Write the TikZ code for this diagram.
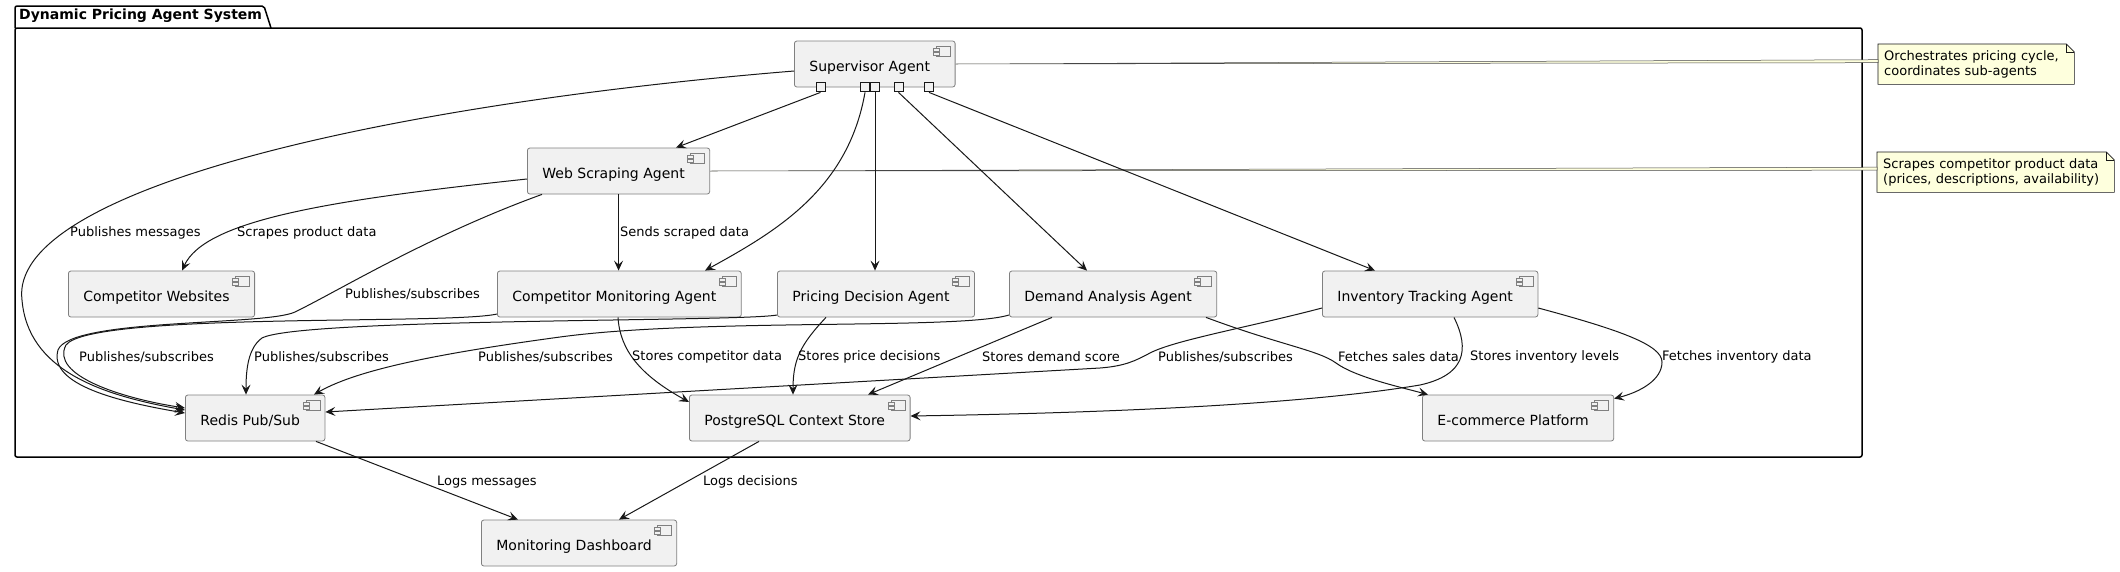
\documentclass[tikz,border=0pt]{standalone}
\usepackage{fontspec}
\setmainfont{DejaVu Sans}
\usetikzlibrary{arrows.meta}
\definecolor{boxfill}{HTML}{F1F1F1}
\definecolor{boxline}{HTML}{808080}
\definecolor{linecol}{HTML}{181818}
\definecolor{notefill}{HTML}{FEFFDD}

\begin{document}
\begin{tikzpicture}[x=1pt,y=-1pt,
  comp/.style={draw=boxline, fill=boxfill, line width=0.8pt, rounded corners=2.5pt,
    anchor=west, minimum height=46pt, inner xsep=15pt, inner ysep=0pt,
    text height=16pt, text depth=2pt, font=\fontsize{14}{16}\selectfont,
    execute at end node={\hspace{10pt}},
    path picture={
      \draw[boxline, line width=0.7pt, sharp corners]
        ([xshift=-19pt,yshift=-5pt]path picture bounding box.north east) rectangle
        ([xshift=-5pt,yshift=-15pt]path picture bounding box.north east);
      \draw[boxline, fill=boxfill, line width=0.7pt, sharp corners]
        ([xshift=-22pt,yshift=-7pt]path picture bounding box.north east) rectangle
        ([xshift=-16pt,yshift=-10pt]path picture bounding box.north east);
      \draw[boxline, fill=boxfill, line width=0.7pt, sharp corners]
        ([xshift=-22pt,yshift=-11pt]path picture bounding box.north east) rectangle
        ([xshift=-16pt,yshift=-14pt]path picture bounding box.north east);}},
  port/.style={draw=linecol, fill=boxfill, line width=1pt, minimum size=9pt, inner sep=0pt},
  lbl/.style={anchor=west, inner sep=0pt, font=\fontsize{13}{15}\selectfont},
  link/.style={draw=linecol, line width=1pt, -{Stealth[length=10pt,width=9pt,inset=4pt]}},
  notebox/.style={fill=notefill, anchor=north west, inner xsep=6pt, inner ysep=0pt,
    minimum height=40pt, align=left, font=\fontsize{13}{15.5}\selectfont},
  noteline/.style={draw=linecol, line width=0.6pt},
  notelink/.style={fill=notefill, draw=linecol!80, line width=0.5pt}]
\useasboundingbox[fill=white] (0,0) rectangle (2120,571);

% package frame
\draw[line width=1.5pt, rounded corners=2pt] (15,28) rectangle (1862,457);
\draw[line width=1.5pt, rounded corners=2pt] (15,28) -- (15,6) -- (264,6) -- (271,28);
\node[anchor=west, inner sep=0pt, font=\bfseries\fontsize{14}{16}\selectfont] (pkgtitle) at (19,16) {Dynamic Pricing Agent System};

% components
\node[comp] (sup) at (794,64) {Supervisor Agent};
\node[comp] (web) at (527,171) {Web Scraping Agent};
\node[comp] (cweb) at (68,294) {Competitor Websites};
\node[comp] (cmon) at (497,294) {Competitor Monitoring Agent};
\node[comp] (price) at (777,294) {Pricing Decision Agent};
\node[comp] (demand) at (1009,294) {Demand Analysis Agent};
\node[comp] (inv) at (1322,294) {Inventory Tracking Agent};
\node[comp] (redis) at (185,418) {Redis Pub/Sub};
\node[comp] (pg) at (689,418) {PostgreSQL Context Store};
\node[comp] (ecom) at (1422,418) {E-commerce Platform};
\node[comp] (dash) at (481,543) {Monitoring Dashboard};

% ports of the supervisor
\node[port] (p1) at ([xshift=26.5]sup.south west) {};
\node[port] (p2) at ([xshift=71]sup.south west) {};
\node[port] (p3) at ([xshift=81]sup.south west) {};
\node[port] (p4) at ([xshift=104.5]sup.south west) {};
\node[port] (p5) at ([xshift=135]sup.south west) {};

% notes
\node[notebox, text width=184pt] (n1) at (1878,44) {Orchestrates pricing cycle,\\coordinates sub-agents};
\node[notebox, text width=225pt] (n2) at (1877,152) {Scrapes competitor product data\\(prices, descriptions, availability)};
\fill[white] ([xshift=-8]n1.north east) -- (n1.north east) -- ([yshift=-8]n1.north east) -- cycle;
\draw[noteline] (n1.north west) -- ([xshift=-8]n1.north east) -- ([yshift=-8]n1.north east) -- (n1.south east) -- (n1.south west) -- cycle;
\draw[noteline] ([xshift=-8]n1.north east) |- ([yshift=-8]n1.north east);
\fill[white] ([xshift=-8]n2.north east) -- (n2.north east) -- ([yshift=-8]n2.north east) -- cycle;
\draw[noteline] (n2.north west) -- ([xshift=-8]n2.north east) -- ([yshift=-8]n2.north east) -- (n2.south east) -- (n2.south west) -- cycle;
\draw[noteline] ([xshift=-8]n2.north east) |- ([yshift=-8]n2.north east);
\filldraw[notelink] (sup.east) -- ([yshift=4.5]n1.west) -- ([yshift=1.5]n1.west) -- cycle;
\filldraw[notelink] (web.east) -- ([yshift=5]n2.west) -- ([yshift=2]n2.west) -- cycle;

% supervisor links
\draw[link] (p1.south) -- ([xshift=149]web.north west);
\draw[link] (p2.south) .. controls (848,190) and (775,232) .. ([xshift=208]cmon.north west);
\draw[link] (p3.south) -- (p3.south |- price.north);
\draw[link] (p4.south) -- ([xshift=78]demand.north west);
\draw[link] (p5.south) -- ([xshift=53]inv.north west);
\draw[link] ([yshift=-7]sup.west) .. controls (380,105) and (8,190) .. (22,300)
  .. controls (28,370) and (100,395) .. ([yshift=8]redis.west);

% web scraping links
\draw[link] ([yshift=-8]web.west) .. controls (330,200) and (205,220) .. ([xshift=114]cweb.north west);
\draw[link] (web.south) -- (web.south |- cmon.north);
\draw[link] ([xshift=15]web.south west) .. controls (430,235) and (340,290) .. (295,312)
  .. controls (265,326) and (70,318) .. (58,350) .. controls (48,385) and (120,402) .. ([yshift=5]redis.west);

% agents to redis
\draw[link] ([yshift=-20]cmon.west) .. controls (450,325) and (90,312) .. (66,345)
  .. controls (50,375) and (120,398) .. ([yshift=10]redis.west);
\draw[link] ([yshift=-21]price.west) .. controls (740,322) and (300,318) .. (262,338)
  .. controls (248,348) and (246,370) .. ([xshift=61]redis.north west);
\draw[link] ([yshift=-21]demand.west) .. controls (960,330) and (700,318) .. (560,337)
  .. controls (450,352) and (360,368) .. ([xshift=129]redis.north west);
\draw[link] ([yshift=-14]inv.west) .. controls (1250,327) and (1175,340) .. (1150,353)
  .. controls (1135,361) and (1125,366) .. (1100,368) -- ([yshift=6]redis.east);

% agents to the store
\draw[link] ([xshift=121]cmon.south west) .. controls (620,350) and (640,375) .. ([yshift=16]pg.west);
\draw[link] ([xshift=49]price.south west) .. controls (800,345) and (793,360) .. ([xshift=104]pg.north west);
\draw[link] ([xshift=43]demand.south west) -- ([xshift=179]pg.north west);
\draw[link] ([xshift=132]inv.south west) .. controls (1470,350) and (1465,375) .. (1420,385)
  .. controls (1300,405) and (1100,413) .. ([yshift=2]pg.east);

% agents to the platform
\draw[link] ([xshift=197]demand.south west) .. controls (1280,345) and (1318,350) .. (1336,363)
  .. controls (1355,377) and (1400,387) .. ([xshift=6]ecom.north west);
\draw[link] ([yshift=-14]inv.east) .. controls (1620,330) and (1662,345) .. (1662,362)
  .. controls (1662,380) and (1640,392) .. ([yshift=-4]ecom.north east);

% dashboard
\draw[link] ([xshift=131]redis.south west) -- ([xshift=37]dash.north west);
\draw[link] ([xshift=70]pg.south west) -- ([xshift=138]dash.north west);

% labels
\node[lbl] (l1) at (70,233) {Publishes messages};
\node[lbl] (l2) at (237,233) {Scrapes product data};
\node[lbl] (l3) at (620,233) {Sends scraped data};
\node[lbl] (l4) at (345,294) {Publishes/subscribes};
\node[lbl] (l5) at (79,357) {Publishes/subscribes};
\node[lbl] (l6) at (254,357) {Publishes/subscribes};
\node[lbl] (l7) at (478,357) {Publishes/subscribes};
\node[lbl] (l8) at (632,357) {Stores competitor data};
\node[lbl] (l9) at (798,357) {Stores price decisions};
\node[lbl] (l10) at (982,357) {Stores demand score};
\node[lbl] (l11) at (1158,357) {Publishes/subscribes};
\node[lbl] (l12) at (1338,357) {Fetches sales data};
\node[lbl] (l13) at (1470,357) {Stores inventory levels};
\node[lbl] (l14) at (1662,357) {Fetches inventory data};
\node[lbl] (l15) at (437,482) {Logs messages};
\node[lbl] (l16) at (703,482) {Logs decisions};
\end{tikzpicture}
\end{document}
